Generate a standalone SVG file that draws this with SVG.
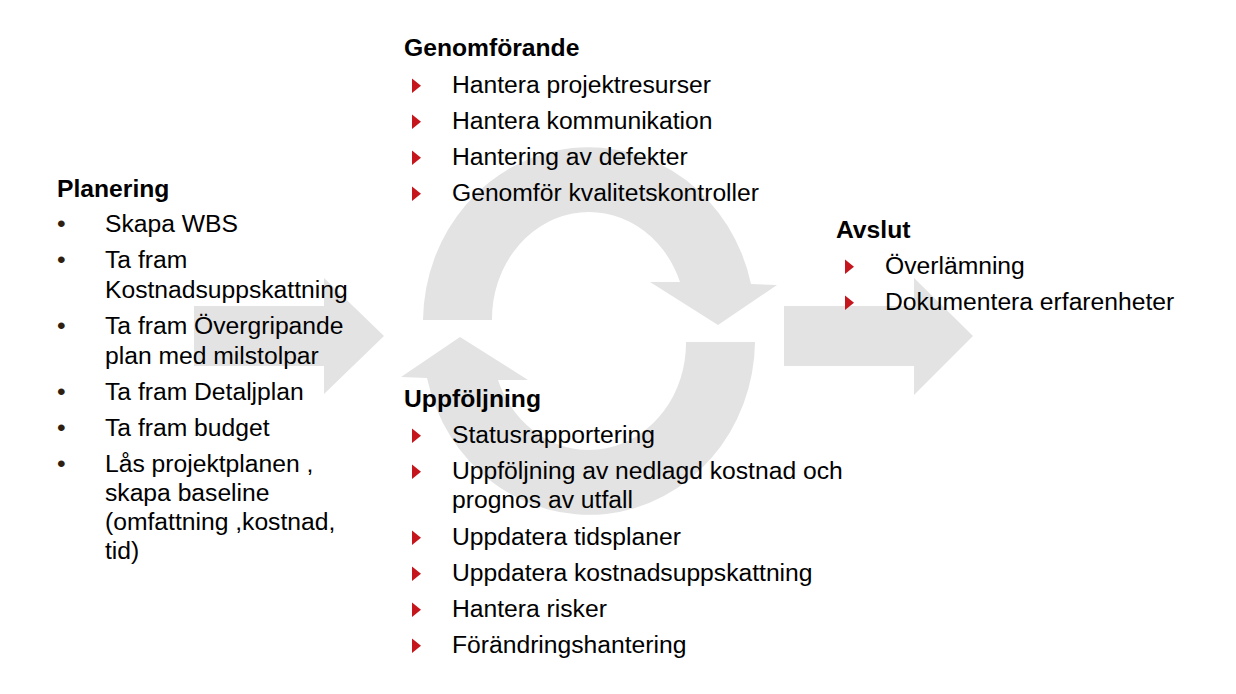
<svg xmlns="http://www.w3.org/2000/svg" xmlns:xlink="http://www.w3.org/1999/xlink" width="1236" height="694" viewBox="0 0 1236 694">
<style>
  .shape { fill: #E3E3E3; }
  .t { font-family: "Liberation Sans", Arial, sans-serif; font-size: 23.5px; fill: #000; }
  .h { font-weight: bold; }
  .dot { fill: #2E1F10; }
  .tri { fill: #C4161C; }
</style>
<defs>
  <path id="tri" class="tri" d="M0 0 L9 7.2 L0 14.5 Z"/>
</defs>
<rect width="1236" height="694" fill="#FFFFFF"/>

<g id="connectors">
  <path class="shape" d="M194 306 H324 V278 L384 336 L324 394 V366 H194 Z"/>
  <path class="shape" d="M784 306 H914 V278 L973 336 L914 395 V366 H784 Z"/>
  <path class="shape" d="M423 320 A166 175 0 0 1 751 284 L777 285 L718 325 L650 282 L680 282 A97 107 0 0 0 492 320 Z"/>
  <path class="shape" d="M755 342 A166 175 0 0 1 427 378 L401 377 L460 337 L528 380 L498 380 A97 107 0 0 0 686 342 Z"/>
</g>

<g id="planering">
  <g transform="translate(105,0) scale(1.05,1)">
    <text class="t h" x="-45.7" y="197">Planering</text>
    <text class="t dot" x="-45.7" y="232">•</text>
    <text class="t" x="0" y="232">Skapa WBS</text>
    <text class="t dot" x="-45.7" y="268">•</text>
    <text class="t" x="0" y="268">Ta fram</text>
    <text class="t" x="0" y="298">Kostnadsuppskattning</text>
    <text class="t dot" x="-45.7" y="334">•</text>
    <text class="t" x="0" y="334">Ta fram Övergripande</text>
    <text class="t" x="0" y="364">plan med milstolpar</text>
    <text class="t dot" x="-45.7" y="400">•</text>
    <text class="t" x="0" y="400">Ta fram Detaljplan</text>
    <text class="t dot" x="-45.7" y="436">•</text>
    <text class="t" x="0" y="436">Ta fram budget</text>
    <text class="t dot" x="-45.7" y="472">•</text>
    <text class="t" x="0" y="472">Lås projektplanen ,</text>
    <text class="t" x="0" y="501">skapa baseline</text>
    <text class="t" x="0" y="530">(omfattning ,kostnad,</text>
    <text class="t" x="0" y="559">tid)</text>
  </g>
</g>

<g id="genomforande">
  <use xlink:href="#tri" href="#tri" x="412" y="78.5"/>
  <use xlink:href="#tri" href="#tri" x="412" y="114.5"/>
  <use xlink:href="#tri" href="#tri" x="412" y="150.5"/>
  <use xlink:href="#tri" href="#tri" x="412" y="186.5"/>
  <g transform="translate(452,0) scale(1.05,1)">
    <text class="t h" x="-45.7" y="56">Genomförande</text>
    <text class="t" x="0" y="93">Hantera projektresurser</text>
    <text class="t" x="0" y="129">Hantera kommunikation</text>
    <text class="t" x="0" y="165">Hantering av defekter</text>
    <text class="t" x="0" y="201">Genomför kvalitetskontroller</text>
  </g>
</g>

<g id="uppfoljning">
  <use xlink:href="#tri" href="#tri" x="412" y="428.5"/>
  <use xlink:href="#tri" href="#tri" x="412" y="464.5"/>
  <use xlink:href="#tri" href="#tri" x="412" y="530.5"/>
  <use xlink:href="#tri" href="#tri" x="412" y="566.5"/>
  <use xlink:href="#tri" href="#tri" x="412" y="602.5"/>
  <use xlink:href="#tri" href="#tri" x="412" y="638.5"/>
  <g transform="translate(452,0) scale(1.05,1)">
    <text class="t h" x="-45.7" y="407">Uppföljning</text>
    <text class="t" x="0" y="443">Statusrapportering</text>
    <text class="t" x="0" y="479">Uppföljning av nedlagd kostnad och</text>
    <text class="t" x="0" y="508">prognos av utfall</text>
    <text class="t" x="0" y="545">Uppdatera tidsplaner</text>
    <text class="t" x="0" y="581">Uppdatera kostnadsuppskattning</text>
    <text class="t" x="0" y="617">Hantera risker</text>
    <text class="t" x="0" y="653">Förändringshantering</text>
  </g>
</g>

<g id="avslut">
  <use xlink:href="#tri" href="#tri" x="845" y="259.5"/>
  <use xlink:href="#tri" href="#tri" x="845" y="295.5"/>
  <g transform="translate(885,0) scale(1.05,1)">
    <text class="t h" x="-46.7" y="238">Avslut</text>
    <text class="t" x="0" y="274">Överlämning</text>
    <text class="t" x="0" y="310">Dokumentera erfarenheter</text>
  </g>
</g>
</svg>
